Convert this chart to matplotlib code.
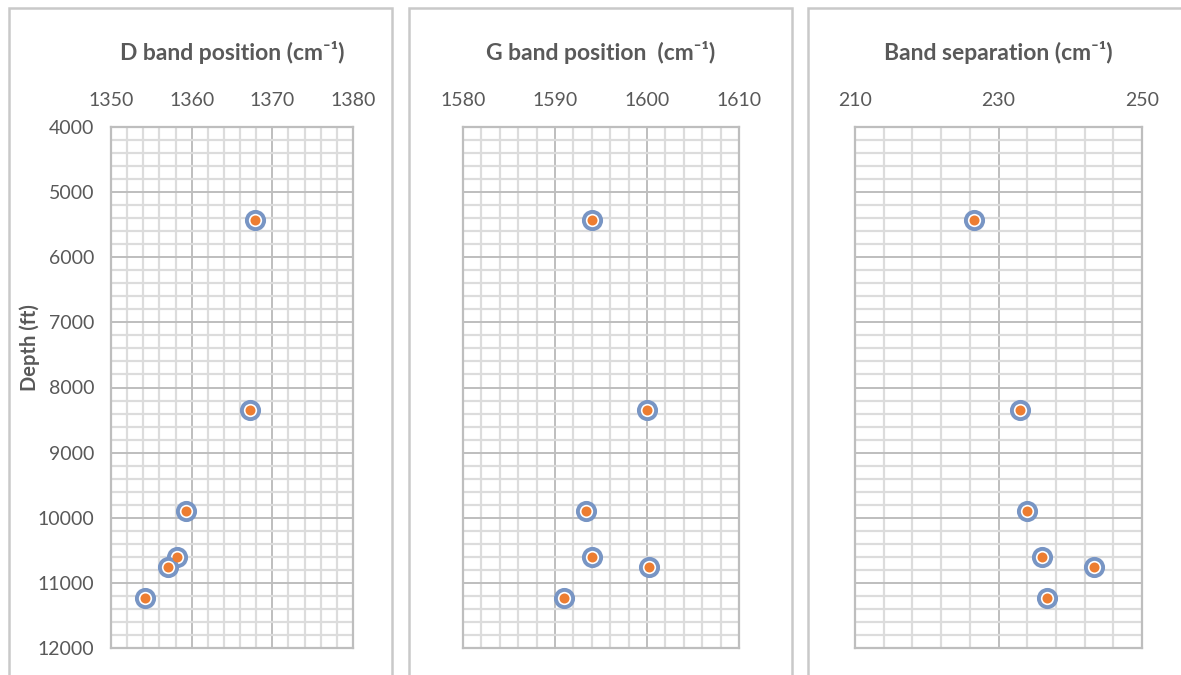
import matplotlib.pyplot as plt
from matplotlib.patches import Rectangle

plt.rcParams['font.family'] = ['Lato', 'DejaVu Sans']

depth = [5430, 8350, 9900, 10600, 10750, 11230]
d_band = [1367.8, 1367.2, 1359.3, 1358.2, 1357.1, 1354.2]
g_band = [1594.0, 1600.0, 1593.4, 1594.0, 1600.2, 1591.0]
separation = [226.6, 233.0, 234.0, 236.1, 243.3, 236.8]

titles = ["D band position (cm\u207b\u00b9)",
          "G band position  (cm\u207b\u00b9)",
          "Band separation (cm\u207b\u00b9)"]
xlims = [(1350, 1380), (1580, 1610), (210, 250)]
xmajor = [10, 10, 20]
xminor = [2, 2, 4]
series = [d_band, g_band, separation]
depth_ticks = list(range(4000, 12001, 1000))

W, H = 1181, 675
fig = plt.figure(figsize=(W / 100, H / 100), dpi=100)

text_col = "#595959"
frame_col = "#C9C9C9"

# panel frames (pixel coords)
frames = [(9, 392), (409, 792), (808, 1200)]
for x0, x1 in frames:
    fig.patches.append(Rectangle((x0 / W, -0.1), (x1 - x0) / W, 1.1 - 8 / H,
                                 transform=fig.transFigure, fill=False,
                                 edgecolor=frame_col, linewidth=1.8))

axes_px = [(111, 353), (463, 739), (855, 1142)]
top, bottom = 127, 648

for i, (x0, x1) in enumerate(axes_px):
    ax = fig.add_axes([x0 / W, 1 - bottom / H, (x1 - x0) / W, (bottom - top) / H])
    lo, hi = xlims[i]
    ax.set_xlim(lo, hi)
    ax.set_ylim(12000, 4000)
    ax.set_xticks(range(lo, hi + 1, xmajor[i]))
    ax.set_xticks(range(lo, hi + 1, xminor[i]), minor=True)
    ax.set_yticks(depth_ticks)
    ax.set_yticks(range(4000, 12001, 200), minor=True)
    ax.grid(which='minor', color='#DCDCDC', linewidth=1.6)
    ax.grid(which='major', color='#BEBEBE', linewidth=1.4)
    ax.set_axisbelow(True)
    ax.xaxis.tick_top()
    ax.tick_params(which='both', length=0, labelsize=14, labelcolor=text_col)
    ax.tick_params(axis='x', pad=13)
    ax.tick_params(axis='y', pad=12)
    for s in ax.spines.values():
        s.set_color('#BEBEBE')
        s.set_linewidth(1.6)
    if i > 0:
        ax.set_yticklabels([])
    ax.set_title(titles[i], fontsize=16.5, fontweight='bold', color=text_col, pad=48)

    ax.plot(series[i], depth, linestyle='none', marker='o', markersize=12.4,
            markerfacecolor='white', markeredgecolor='#7895C4', markeredgewidth=2.8,
            clip_on=False, zorder=3)
    ax.plot(series[i], depth, linestyle='none', marker='o', markersize=7.2,
            markerfacecolor='#ED7D31', markeredgecolor='none', clip_on=False, zorder=4)

fig.text(30 / W, 1 - 348 / H, "Depth (ft)", rotation=90, ha='center', va='center',
         fontsize=14.5, fontweight='bold', color=text_col)

fig.savefig("out.png", dpi=100)
